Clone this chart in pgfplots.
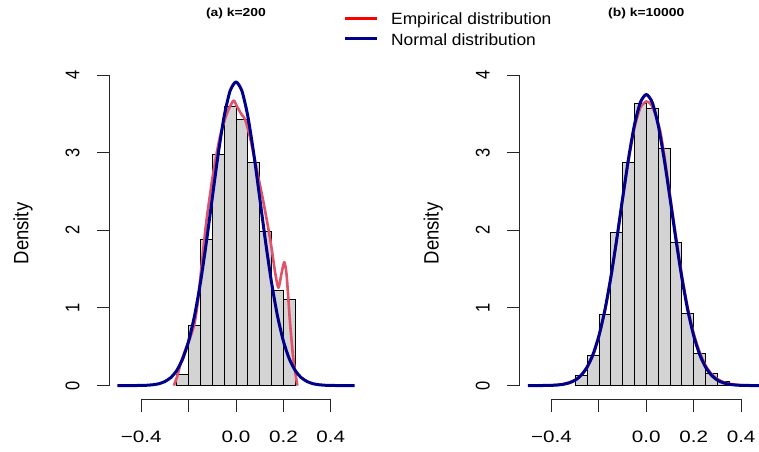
\documentclass[border=0pt]{standalone}
\usepackage{pgfplots}
\pgfplotsset{compat=1.18}
\usepackage{fontspec}
\setmainfont{Liberation Sans}
\usepackage{graphicx}

\definecolor{empred}{HTML}{DF536B}
\definecolor{normblue}{HTML}{00008B}
\definecolor{histgray}{HTML}{D3D3D3}

\newcommand{\ticklab}[1]{\fontsize{16.5pt}{18pt}\selectfont\scalebox{1.25}[1]{#1}}
\newcommand{\ytlab}[1]{\fontsize{16.5pt}{18pt}\selectfont\scalebox{1}[1.2]{#1}}
\newcommand{\denslab}{\fontsize{18.5pt}{20pt}\selectfont\scalebox{1}[1.12]{Density}}
\newcommand{\titlab}[1]{\fontsize{11.6pt}{13pt}\selectfont\scalebox{1.2}[1]{\bfseries #1}}
\newcommand{\leglab}[1]{\fontsize{16.3pt}{18pt}\selectfont\scalebox{1.065}[1]{#1}}

\tikzset{axl/.style={line width=0.9pt, black!85}}

\newcommand{\raxes}{%
  \draw[axl] ([xshift=1.3pt]axis cs:-0.54,0) -- ([xshift=1.3pt]axis cs:-0.54,4);
  \pgfplotsinvokeforeach{0,1,2,3,4}{%
    \draw[axl] ([xshift=1.3pt]axis cs:-0.54,##1) -- ++(-12.6pt,0pt);
    \node[rotate=90,anchor=base,inner sep=0pt] at ([xshift=-28.7pt]axis cs:-0.54,##1) {\ytlab{##1}};
  }
  \draw[axl] ([yshift=-1.3pt]axis cs:-0.4,-0.16) -- ([yshift=-1.3pt]axis cs:0.4,-0.16);
  \pgfplotsinvokeforeach{-0.4,-0.2,0,0.2,0.4}{%
    \draw[axl] ([yshift=-1.3pt]axis cs:##1,-0.16) -- ++(0pt,-12.4pt);
  }
  \node[anchor=base,inner sep=0pt] at ([yshift=-57pt]axis cs:-0.4,0) {\ticklab{−0.4}};
  \node[anchor=base,inner sep=0pt] at ([yshift=-57pt]axis cs:0,0) {\ticklab{0.0}};
  \node[anchor=base,inner sep=0pt] at ([yshift=-57pt]axis cs:0.2,0) {\ticklab{0.2}};
  \node[anchor=base,inner sep=0pt] at ([yshift=-57pt]axis cs:0.4,0) {\ticklab{0.4}};
  \node[rotate=90,anchor=base,inner sep=0pt] at ([xshift=-79.7pt,yshift=-3.2pt]axis cs:-0.54,2) {\denslab};
}

\pgfplotsset{
  rpanel/.style={
    scale only axis, width=256pt, height=335.4pt,
    xmin=-0.54, xmax=0.54, ymin=-0.16, ymax=4.16,
    hide axis, clip=false, anchor=south west,
  },
  histstyle/.style={ybar interval, fill=histgray, draw=black, line width=0.8pt},
  empstyle/.style={color=empred, line width=2.6pt, smooth, tension=0.4, no marks, line join=round},
  normstyle/.style={color=normblue, line width=3pt, smooth, tension=0.4, no marks, line join=round},
}

\pgfplotstableread{
x y
-0.25 0.15
-0.20 0.77
-0.15 1.88
-0.10 2.98
-0.05 3.60
0.00 3.43
0.05 2.87
0.10 1.99
0.15 1.23
0.20 1.11
0.25 0
}\histA

\pgfplotstableread{
x y
-0.30 0.137
-0.25 0.386
-0.20 0.917
-0.15 1.97
-0.10 2.87
-0.05 3.63
0.00 3.57
0.05 3.06
0.10 1.84
0.15 0.934
0.20 0.416
0.25 0.163
0.30 0.056
0.35 0
}\histB

\pgfplotstableread{
x y
-0.262 0.00
-0.248 0.12
-0.232 0.30
-0.215 0.45
-0.195 0.60
-0.175 0.80
-0.160 1.10
-0.145 1.55
-0.124 2.14
-0.096 2.74
-0.068 3.20
-0.039 3.50
-0.011 3.67
0.003 3.60
0.024 3.49
0.038 3.43
0.059 3.20
0.087 2.79
0.116 2.36
0.144 1.89
0.165 1.46
0.179 1.26
0.193 1.46
0.204 1.59
0.214 1.41
0.228 0.81
0.242 0.34
0.259 0.00
}\empA

\pgfplotstableread{
x y
-0.500 0.0000
-0.450 0.0002
-0.400 0.0018
-0.375 0.0045
-0.350 0.011
-0.325 0.024
-0.300 0.052
-0.275 0.103
-0.250 0.194
-0.225 0.343
-0.200 0.572
-0.175 0.898
-0.150 1.326
-0.125 1.846
-0.100 2.419
-0.075 2.985
-0.050 3.468
-0.025 3.795
0.000 3.911
0.025 3.795
0.050 3.468
0.075 2.985
0.100 2.419
0.125 1.846
0.150 1.326
0.175 0.898
0.200 0.572
0.225 0.343
0.250 0.194
0.275 0.103
0.300 0.052
0.325 0.024
0.350 0.011
0.375 0.0045
0.400 0.0018
0.450 0.0002
0.500 0.0000
}\normA

\pgfplotstableread{
x y
-0.450 0.000
-0.400 0.004
-0.350 0.020
-0.300 0.070
-0.275 0.130
-0.250 0.230
-0.225 0.390
-0.200 0.630
-0.175 0.960
-0.150 1.380
-0.125 1.870
-0.100 2.400
-0.075 2.900
-0.050 3.320
-0.025 3.580
0.000 3.660
0.020 3.620
0.040 3.480
0.060 3.260
0.080 2.880
0.100 2.450
0.125 1.920
0.150 1.420
0.175 1.000
0.200 0.670
0.225 0.430
0.250 0.260
0.275 0.150
0.300 0.085
0.325 0.045
0.350 0.022
0.400 0.005
0.450 0.001
0.500 0.000
}\empB

\pgfplotstableread{
x y
-0.500 0.0001
-0.450 0.0005
-0.400 0.0032
-0.375 0.0075
-0.350 0.017
-0.325 0.035
-0.300 0.070
-0.275 0.133
-0.250 0.237
-0.225 0.401
-0.200 0.641
-0.175 0.969
-0.150 1.388
-0.125 1.881
-0.100 2.411
-0.075 2.925
-0.050 3.358
-0.025 3.648
0.000 3.750
0.025 3.648
0.050 3.358
0.075 2.925
0.100 2.411
0.125 1.881
0.150 1.388
0.175 0.969
0.200 0.641
0.225 0.401
0.250 0.237
0.275 0.133
0.300 0.070
0.325 0.035
0.350 0.017
0.375 0.0075
0.400 0.0032
0.450 0.0005
0.500 0.0001
}\normB

\begin{document}
\begin{tikzpicture}[x=1pt,y=1pt]
\begin{axis}[rpanel, at={(108pt,53pt)}]
  \addplot[histstyle] table[x=x,y=y] {\histA};
  \addplot[empstyle] table[x=x,y=y] {\empA};
  \addplot[normstyle] table[x=x,y=y] {\normA};
  \raxes
  \node[anchor=base,inner sep=0pt] at ([yshift=58.3pt]axis cs:0,4) {\titlab{(a) k=200}};
\end{axis}
\begin{axis}[rpanel, at={(518.3pt,53pt)}]
  \addplot[histstyle] table[x=x,y=y] {\histB};
  \addplot[empstyle] table[x=x,y=y] {\empB};
  \addplot[normstyle] table[x=x,y=y] {\normB};
  \raxes
  \node[anchor=base,inner sep=0pt] at ([yshift=58.3pt]axis cs:0,4) {\titlab{(b) k=10000}};
\end{axis}
% legend
\draw[red, line width=3pt] (345pt,432pt) -- (376.7pt,432pt);
\draw[normblue, line width=3pt] (345pt,412pt) -- (376.7pt,412pt);
\node[anchor=base west,inner sep=0pt] at (391pt,426pt) {\leglab{Empirical distribution}};
\node[anchor=base west,inner sep=0pt] at (391pt,406pt) {\leglab{Normal distribution}};
\pgfresetboundingbox
\path[use as bounding box] (0pt,0pt) rectangle (759pt,451pt);
\end{tikzpicture}
\end{document}
